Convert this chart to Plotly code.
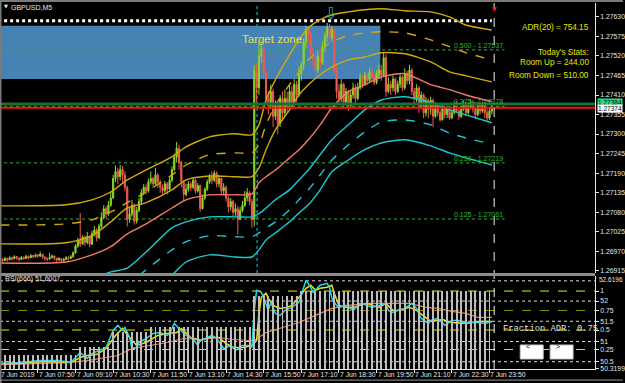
import pandas as pd
import plotly.graph_objects as go

# ---------------- data ----------------
BAR0 = pd.Timestamp("2019-06-07 06:30")   # first M5 bar on screen

closes = [
    1.26948, 1.26944, 1.26950, 1.26946, 1.26952, 1.26949, 1.26955, 1.26951, 1.26947, 1.26953,
    1.26950, 1.26956, 1.26952, 1.26958, 1.26955, 1.26960, 1.26957, 1.26962, 1.26954, 1.26950,
    1.26948, 1.26953, 1.26957, 1.26951, 1.26946, 1.26949, 1.26944, 1.26947, 1.26952, 1.26950, 1.26955,
    1.26966, 1.26985, 1.27002, 1.26990, 1.27010,
    1.26995, 1.27012, 1.26990, 1.27020, 1.27030, 1.27008,
    1.27040, 1.27065, 1.27090, 1.27075, 1.27100, 1.27120,
    1.27175, 1.27195, 1.27180, 1.27200, 1.27185,
    1.27150, 1.27060, 1.27075,
    1.27100, 1.27055, 1.27085, 1.27110,
    1.27135, 1.27150, 1.27140, 1.27165, 1.27175, 1.27160, 1.27185,
    1.27165, 1.27150, 1.27140, 1.27160, 1.27145, 1.27170,
    1.27200, 1.27235, 1.27260, 1.27220,
    1.27165, 1.27130, 1.27145,
    1.27160, 1.27150, 1.27170, 1.27140, 1.27155, 1.27090, 1.27120, 1.27145, 1.27165, 1.27180,
    1.27170, 1.27190, 1.27160, 1.27175, 1.27140, 1.27150, 1.27120,
    1.27095, 1.27110, 1.27080, 1.27090, 1.27060, 1.27085, 1.27100,
    1.27120, 1.27135, 1.27110, 1.27060,
    1.27480,
    1.27430, 1.27520, 1.27540,
    1.27470, 1.27400, 1.27380,
    1.27420, 1.27350, 1.27380, 1.27330, 1.27400, 1.27360,
    1.27400, 1.27380, 1.27420, 1.27390, 1.27440, 1.27410,
    1.27470, 1.27495,
    1.27560, 1.27595, 1.27580,
    1.27530, 1.27510,
    1.27480, 1.27520, 1.27500,
    1.27545, 1.27575,
    1.27600, 1.27570, 1.27595,
    1.27480, 1.27420,
    1.27400, 1.27440, 1.27390, 1.27420, 1.27380, 1.27410, 1.27430, 1.27400,
    1.27430, 1.27455, 1.27440, 1.27465, 1.27450, 1.27475, 1.27460, 1.27445, 1.27470, 1.27480, 1.27465,
    1.27515, 1.27420, 1.27440,
    1.27430, 1.27455, 1.27420, 1.27440, 1.27460, 1.27430, 1.27470, 1.27450,
    1.27480, 1.27420, 1.27400, 1.27430, 1.27380, 1.27410, 1.27360, 1.27395,
    1.27370, 1.27395, 1.27350, 1.27380, 1.27360, 1.27340, 1.27375, 1.27355,
    1.27370, 1.27345, 1.27360, 1.27380, 1.27365, 1.27350, 1.27370, 1.27385, 1.27360,
    1.27375, 1.27390, 1.27370, 1.27355, 1.27380, 1.27365, 1.27385, 1.27360, 1.27345, 1.27365, 1.27374,
]
highs = [
    1.26953, 1.26950, 1.26954, 1.26952, 1.26956, 1.26955, 1.26959, 1.26957, 1.26952, 1.26957,
    1.26955, 1.26960, 1.26958, 1.26962, 1.26960, 1.26964, 1.26963, 1.26969, 1.26962, 1.26956,
    1.26953, 1.26966, 1.26961, 1.26958, 1.26951, 1.26954, 1.26950, 1.26952, 1.26957, 1.26956, 1.26960,
    1.26970, 1.26990, 1.27008, 1.27078, 1.27015,
    1.27015, 1.27025, 1.27015, 1.27028, 1.27042, 1.27035,
    1.27048, 1.27080, 1.27100, 1.27098, 1.27112, 1.27138,
    1.27185, 1.27212, 1.27205, 1.27213, 1.27210,
    1.27195, 1.27155, 1.27095,
    1.27115, 1.27105, 1.27095, 1.27120,
    1.27145, 1.27160, 1.27158, 1.27175, 1.27195, 1.27180, 1.27205,
    1.27190, 1.27172, 1.27158, 1.27168, 1.27165, 1.27180,
    1.27210, 1.27245, 1.27278, 1.27270,
    1.27225, 1.27170, 1.27160,
    1.27168, 1.27165, 1.27178, 1.27175, 1.27162, 1.27158, 1.27130, 1.27150, 1.27172, 1.27188,
    1.27195, 1.27198, 1.27195, 1.27185, 1.27178, 1.27162, 1.27155,
    1.27125, 1.27120, 1.27115, 1.27105, 1.27098, 1.27095, 1.27112,
    1.27140, 1.27148, 1.27140, 1.27118,
    1.27495,
    1.27500, 1.27560, 1.27552,
    1.27545, 1.27480, 1.27420,
    1.27440, 1.27428, 1.27395, 1.27390, 1.27410, 1.27420,
    1.27425, 1.27420, 1.27440, 1.27435, 1.27455, 1.27450,
    1.27490, 1.27505,
    1.27570, 1.27605, 1.27600,
    1.27590, 1.27545,
    1.27530, 1.27535, 1.27540,
    1.27560, 1.27585,
    1.27613, 1.27610, 1.27605,
    1.27595, 1.27490,
    1.27440, 1.27455, 1.27445, 1.27430, 1.27425, 1.27420, 1.27445, 1.27440,
    1.27445, 1.27470, 1.27465, 1.27475, 1.27472, 1.27485, 1.27490, 1.27470, 1.27480, 1.27495, 1.27495,
    1.27530, 1.27525, 1.27460,
    1.27450, 1.27465, 1.27460, 1.27450, 1.27470, 1.27465, 1.27485, 1.27478,
    1.27495, 1.27485, 1.27430, 1.27440, 1.27435, 1.27420, 1.27415, 1.27405,
    1.27400, 1.27405, 1.27400, 1.27390, 1.27385, 1.27370, 1.27385, 1.27380,
    1.27380, 1.27375, 1.27370, 1.27390, 1.27392, 1.27370, 1.27380, 1.27395, 1.27390,
    1.27385, 1.27398, 1.27395, 1.27375, 1.27390, 1.27385, 1.27392, 1.27390, 1.27370, 1.27372, 1.27385,
]
lows = [
    1.26942, 1.26940, 1.26943, 1.26941, 1.26945, 1.26944, 1.26948, 1.26946, 1.26942, 1.26946,
    1.26946, 1.26949, 1.26947, 1.26951, 1.26950, 1.26953, 1.26951, 1.26954, 1.26949, 1.26944,
    1.26943, 1.26947, 1.26950, 1.26945, 1.26940, 1.26943, 1.26938, 1.26941, 1.26946, 1.26944, 1.26949,
    1.26952, 1.26963, 1.26980, 1.26982, 1.26988,
    1.26985, 1.26990, 1.26982, 1.26988, 1.27012, 1.26998,
    1.27005, 1.27035, 1.27060, 1.27062, 1.27070, 1.27095,
    1.27118, 1.27165, 1.27160, 1.27170, 1.27165,
    1.27140, 1.27040, 1.27050,
    1.27068, 1.27045, 1.27048, 1.27080,
    1.27100, 1.27128, 1.27130, 1.27135, 1.27158, 1.27148, 1.27155,
    1.27148, 1.27135, 1.27132, 1.27135, 1.27130, 1.27140,
    1.27165, 1.27195, 1.27220, 1.27200,
    1.27150, 1.27112, 1.27125,
    1.27138, 1.27140, 1.27145, 1.27132, 1.27135, 1.27082, 1.27088, 1.27115, 1.27140, 1.27160,
    1.27160, 1.27165, 1.27150, 1.27150, 1.27130, 1.27130, 1.27110,
    1.27080, 1.27085, 1.27068, 1.27070, 1.27017, 1.27058, 1.27080,
    1.27095, 1.27110, 1.27100, 1.27036,
    1.27040,
    1.27380, 1.27410, 1.27500,
    1.27455, 1.27385, 1.27355,
    1.27370, 1.27320, 1.27340, 1.27300, 1.27320, 1.27340,
    1.27350, 1.27360, 1.27370, 1.27375, 1.27385, 1.27390,
    1.27405, 1.27450,
    1.27480, 1.27540, 1.27555,
    1.27520, 1.27490,
    1.27462, 1.27470, 1.27480,
    1.27495, 1.27530,
    1.27560, 1.27555, 1.27560,
    1.27470, 1.27400,
    1.27380, 1.27390, 1.27370, 1.27380, 1.27365, 1.27372, 1.27400, 1.27385,
    1.27395, 1.27425, 1.27430, 1.27435, 1.27440, 1.27445, 1.27450, 1.27438, 1.27440, 1.27460, 1.27450,
    1.27460, 1.27405, 1.27415,
    1.27410, 1.27420, 1.27410, 1.27415, 1.27430, 1.27420, 1.27425, 1.27440,
    1.27440, 1.27410, 1.27380, 1.27390, 1.27360, 1.27370, 1.27345, 1.27350,
    1.27345, 1.27355, 1.27320, 1.27345, 1.27350, 1.27335, 1.27338, 1.27345,
    1.27345, 1.27340, 1.27342, 1.27355, 1.27360, 1.27340, 1.27345, 1.27365, 1.27350,
    1.27355, 1.27370, 1.27360, 1.27342, 1.27350, 1.27355, 1.27360, 1.27345, 1.27338, 1.27340, 1.27355,
]
first_open = 1.26950

# indicator bands, read at these bar indices
band_idx = [0, 28, 39, 47, 54, 62, 73, 79, 89, 100, 107, 110, 113, 117, 123, 127, 131, 136,
            141, 148, 155, 162, 172, 183, 191, 198, 209]
ma_mid = [1.26937, 1.26940, 1.26960, 1.26983, 1.27019, 1.27047, 1.27092, 1.27115, 1.27129, 1.27129,
          1.27132, 1.27163, 1.27180, 1.27199, 1.27233, 1.27256, 1.27284, 1.27326, 1.27374, 1.27419,
          1.27439, 1.27461, 1.27470, 1.27439, 1.27425, 1.27410, 1.27391]
gold_outer = [1.27098, 1.27101, 1.27115, 1.27137, 1.27171, 1.27199, 1.27236, 1.27264, 1.27292, 1.27301,
              1.27298, 1.27326, 1.27396, 1.27453, 1.27523, 1.27565, 1.27599, 1.27622, 1.27636, 1.27644,
              1.27650, 1.27653, 1.27647, 1.27644, 1.27630, 1.27607, 1.27593]
gold_mid = [1.27044, 1.27047, 1.27059, 1.27081, 1.27107, 1.27137, 1.27185, 1.27213, 1.27242, 1.27247,
            1.27247, 1.27270, 1.27326, 1.27382, 1.27439, 1.27475, 1.27509, 1.27537, 1.27560, 1.27577,
            1.27585, 1.27588, 1.27585, 1.27565, 1.27546, 1.27529, 1.27509]
gold_inner = [1.26991, 1.26994, 1.27014, 1.27053, 1.27092, 1.27107, 1.27143, 1.27171, 1.27182, 1.27180,
              1.27180, 1.27205, 1.27256, 1.27312, 1.27368, 1.27410, 1.27439, 1.27467, 1.27489, 1.27509,
              1.27517, 1.27529, 1.27526, 1.27503, 1.27475, 1.27464, 1.27447]
cyan_inner = [1.26884, 1.26887, 1.26895, 1.26912, 1.26923, 1.26968, 1.27036, 1.27053, 1.27067, 1.27067,
              1.27067, 1.27076, 1.27092, 1.27115, 1.27143, 1.27171, 1.27199, 1.27242, 1.27284, 1.27326,
              1.27368, 1.27396, 1.27405, 1.27388, 1.27368, 1.27354, 1.27332]
cyan_mid = [1.26833, 1.26836, 1.26845, 1.26856, 1.26876, 1.26918, 1.26974, 1.26997, 1.27014, 1.27011,
            1.27011, 1.27022, 1.27036, 1.27053, 1.27087, 1.27115, 1.27143, 1.27185, 1.27227, 1.27270,
            1.27306, 1.27334, 1.27340, 1.27326, 1.27303, 1.27289, 1.27272]
cyan_outer = [1.26777, 1.26780, 1.26788, 1.26805, 1.26833, 1.26862, 1.26904, 1.26940, 1.26960, 1.26954,
              1.26954, 1.26974, 1.27002, 1.27022, 1.27053, 1.27078, 1.27101, 1.27143, 1.27194, 1.27227,
              1.27256, 1.27275, 1.27284, 1.27267, 1.27247, 1.27233, 1.27213]

# RSI pane lines
rsi_fast_idx = [0, 8, 17, 25, 30, 34, 37, 39, 42, 45, 48, 50, 52, 53, 55, 56, 58, 59, 62, 65, 68, 71, 72,
                74, 76, 79, 82, 84, 85, 88, 90, 92, 95, 98, 100, 103, 106, 107, 108, 109, 111, 112, 114,
                115, 117, 119, 121, 124, 127, 130, 132, 133, 135, 136, 139, 140, 141, 143, 144, 147, 150,
                153, 156, 158, 161, 164, 165, 167, 169, 172, 175, 177, 179, 182, 183, 186, 188, 189, 192,
                195, 198, 200, 203, 206, 209]
rsi_fast = [50.454, 50.479, 50.529, 50.529, 50.479, 50.727, 50.578, 50.702, 50.777, 50.851,
            51.273, 51.397, 51.273, 51.347, 51.099, 50.826, 50.851, 50.975, 51.074, 51.199,
            51.223, 51.149, 51.199, 51.447, 51.323, 51.149, 51.074, 50.901, 51.025, 51.099,
            51.149, 51.074, 50.826, 50.901, 50.777, 50.901, 50.901, 50.851, 51.769, 52.266,
            52.216, 52.092, 51.769, 51.968, 51.695, 51.645, 51.769, 51.844, 51.968, 52.514,
            52.340, 52.216, 52.340, 52.390, 52.439, 52.340, 52.067, 51.893, 51.844, 51.893,
            51.769, 51.943, 51.893, 51.844, 51.893, 51.943, 51.769, 51.720, 51.769, 51.819,
            51.943, 51.819, 51.571, 51.447, 51.521, 51.571, 51.471, 51.397, 51.521, 51.521,
            51.447, 51.471, 51.471, 51.447, 51.496]
rsi_mid_idx = [0, 8, 18, 25, 30, 34, 37, 41, 45, 49, 52, 55, 58, 62, 67, 71, 75, 77, 81, 85, 89, 93, 96,
               99, 103, 107, 109, 110, 111, 113, 114, 116, 119, 122, 124, 127, 130, 132, 134, 136, 139,
               141, 142, 144, 147, 150, 153, 156, 158, 161, 164, 167, 169, 174, 177, 181, 183, 188, 192,
               198, 203, 209]
rsi_mid = [50.454, 50.454, 50.504, 50.479, 50.479, 50.603, 50.653, 50.677, 50.826, 51.149,
           51.323, 51.099, 50.901, 50.975, 51.149, 51.199, 51.223, 51.323, 51.099, 51.025,
           51.099, 51.099, 50.950, 50.851, 50.851, 50.901, 51.025, 51.695, 52.092, 52.191,
           52.067, 51.893, 51.819, 51.844, 51.893, 52.092, 52.315, 52.390, 52.266, 52.315,
           52.340, 52.390, 52.191, 51.893, 51.844, 51.844, 51.893, 51.943, 51.893, 51.844,
           51.943, 51.769, 51.769, 51.844, 51.769, 51.571, 51.496, 51.546, 51.471, 51.447,
           51.496, 51.496]
rsi_slow_idx = [0, 21, 28, 37, 42, 50, 56, 64, 71, 78, 85, 93, 99, 106, 108, 113, 120, 127, 134, 141,
                148, 156, 162, 174, 181, 186, 192, 198, 203, 209]
rsi_slow = [50.429, 50.454, 50.479, 50.529, 50.578, 50.653, 50.826, 50.901, 50.975, 51.074,
            51.050, 51.099, 51.050, 51.025, 51.025, 51.223, 51.347, 51.471, 51.645, 51.819,
            51.893, 51.943, 51.943, 51.943, 51.844, 51.819, 51.744, 51.695, 51.596, 51.596]

# fraction-of-ADR histogram, every second bar
frac_hist = [0.18] * 17 + [0.28] * 7 + [0.47] * 8 + [0.54] * 22 + [0.94] * 10 + [1.0] * 41

price_ticks = [1.27630, 1.27575, 1.27520, 1.27465, 1.27410, 1.27355, 1.27300,
               1.27245, 1.27190, 1.27135, 1.27080, 1.27025, 1.26970, 1.26915]
rsi_max_label = "52.6196"
rsi_ticks = [52.0, 51.5, 51.0, 50.5, 50.3199]
rsi_tick_text = ["52", "51.5", "51", "50.5", "50.3199"]
frac_ticks = [1.0, 0.75, 0.5, 0.25]
frac_tick_text = ["1", "0.75", "0.5", "0.25"]
rsi_levels = [52.5, 52.0, 51.5, 51.0, 50.5]

time_labels = ["7 Jun 2019", "7 Jun 07:50", "7 Jun 09:10", "7 Jun 10:30", "7 Jun 11:50",
               "7 Jun 13:10", "7 Jun 14:30", "7 Jun 15:50", "7 Jun 17:10", "7 Jun 18:30",
               "7 Jun 19:50", "7 Jun 21:10", "7 Jun 22:30", "7 Jun 23:50"]
time_label_at = ["2019-06-07 06:30", "2019-06-07 07:50", "2019-06-07 09:10", "2019-06-07 10:30",
                 "2019-06-07 11:50", "2019-06-07 13:10", "2019-06-07 14:30", "2019-06-07 15:50",
                 "2019-06-07 17:10", "2019-06-07 18:30", "2019-06-07 19:50", "2019-06-07 21:10",
                 "2019-06-07 22:30", "2019-06-07 23:50"]

fib_names = ["0.500", "0.375", "0.250", "0.125", "0.000"]
fib_prices = [1.27537, 1.27378, 1.27219, 1.27061, 1.26902]
adr_high_line = 1.27619
ask_price = 1.27385
bid_price = 1.27374
zone_top, zone_bottom = 1.27605, 1.27455
stats_lines = ["ADR(20) = 754.15", "Today's Stats:", "Room Up = 244.00", "Room Down = 510.00"]

# ---------------- figure ----------------
def bar_time(i):
    return BAR0 + pd.Timedelta(minutes=5 * i)

N = len(closes)
times = [bar_time(i) for i in range(N)]
opens = [first_open] + closes[:-1]
hi = [max(h, o, c) for h, o, c in zip(highs, opens, closes)]
lo = [min(l, o, c) for l, o, c in zip(lows, opens, closes)]

BULL = "#8CD626"
BEAR = "#EE5B52"
GOLD = "#D2A90A"
CYAN = "#1FC6CF"
SALMON = "#F77866"
WHITE = "#E6E6E6"
FONT = "Liberation Sans"

fig = go.Figure()

fig.add_trace(go.Candlestick(
    x=times, open=opens, high=hi, low=lo, close=closes,
    increasing=dict(line=dict(color=BULL, width=1), fillcolor=BULL),
    decreasing=dict(line=dict(color=BEAR, width=1), fillcolor=BEAR),
    whiskerwidth=0, hoverinfo="skip", xaxis="x", yaxis="y"))

bt = [bar_time(i) for i in band_idx]
for vals, col, dash in [(gold_outer, GOLD, "solid"), (gold_mid, GOLD, "dash"), (gold_inner, GOLD, "solid"),
                        (cyan_inner, CYAN, "solid"), (cyan_mid, CYAN, "dash"), (cyan_outer, CYAN, "solid"),
                        (ma_mid, SALMON, "solid")]:
    fig.add_trace(go.Scatter(x=bt, y=vals, mode="lines", xaxis="x", yaxis="y",
                             line=dict(color=col, width=1.4, dash=dash, shape="spline", smoothing=0.7),
                             hoverinfo="skip"))

# RSI pane
fig.add_trace(go.Bar(x=times[0::2], y=frac_hist, xaxis="x", yaxis="y3",
                     marker=dict(color="#BDBDBD", line=dict(width=0)), width=120000, hoverinfo="skip"))
fig.add_trace(go.Scatter(x=[bar_time(i) for i in rsi_slow_idx], y=rsi_slow, mode="lines", xaxis="x",
                         yaxis="y2", line=dict(color=SALMON, width=1.2), hoverinfo="skip"))
fig.add_trace(go.Scatter(x=[bar_time(i) for i in rsi_mid_idx], y=rsi_mid, mode="lines", xaxis="x",
                         yaxis="y2", line=dict(color="#F2E600", width=1.5), hoverinfo="skip"))
fig.add_trace(go.Scatter(x=[bar_time(i) for i in rsi_fast_idx], y=rsi_fast, mode="lines", xaxis="x",
                         yaxis="y2", line=dict(color="#22D8E6", width=1.5), hoverinfo="skip"))

X_LEFT = "2019-06-07 06:00"
FIB_END = "2019-06-08 00:22"
LINE_END = "2019-06-07 23:55"
DAY_END = "2019-06-08 00:00"

shapes = []
# target zone
shapes.append(dict(type="rect", xref="x", yref="y", x0=X_LEFT, x1="2019-06-07 19:58",
                   y0=zone_bottom, y1=zone_top, fillcolor="#4682B4", line=dict(width=0), layer="below"))
# ADR high dotted line
shapes.append(dict(type="line", xref="x", yref="y", x0=X_LEFT, x1=LINE_END, y0=adr_high_line,
                   y1=adr_high_line, line=dict(color="#FFFFFF", width=3, dash="dot"), layer="below"))
# fib levels
for p in fib_prices:
    shapes.append(dict(type="line", xref="x", yref="y", x0=X_LEFT, x1=FIB_END, y0=p, y1=p,
                       line=dict(color="#2DB82D", width=1, dash="dot"), layer="below"))
# news time vertical
shapes.append(dict(type="line", xref="x", yref="paper", x0="2019-06-07 15:36", x1="2019-06-07 15:36",
                   y0=0.2623, y1=1, line=dict(color="#10D0E0", width=1, dash="dot"), layer="below"))
# ask / bid
shapes.append(dict(type="line", xref="paper", yref="y", x0=0, x1=1, y0=ask_price, y1=ask_price,
                   line=dict(color="#17703A", width=3), layer="above"))
shapes.append(dict(type="line", xref="paper", yref="y", x0=0, x1=1, y0=bid_price, y1=bid_price,
                   line=dict(color="#FF1010", width=2), layer="above"))
# day end vertical
shapes.append(dict(type="line", xref="x", yref="paper", x0=DAY_END, x1=DAY_END, y0=0, y1=1,
                   line=dict(color="#F0F0F0", width=1, dash="dash"), layer="above"))
# RSI pane level lines
for v in rsi_levels:
    shapes.append(dict(type="line", xref="paper", yref="y2", x0=0, x1=1, y0=v, y1=v,
                       line=dict(color="#DADADA", width=1, dash="dot"), layer="below"))
for v in frac_ticks:
    col = "#8E8E00" if v == 0.75 else "#E8E800"
    shapes.append(dict(type="line", xref="paper", yref="y3", x0=0, x1=1, y0=v, y1=v,
                       line=dict(color=col, width=1, dash="dash"), layer="below"))
# pane separator and frame
shapes.append(dict(type="rect", xref="paper", yref="paper", x0=0, x1=1, y0=0.2541, y1=0.2623,
                   fillcolor="#8C8C8C", line=dict(width=0), layer="above"))
shapes.append(dict(type="rect", xref="paper", yref="paper", x0=0, x1=625 / 597, y0=1.0027, y1=1.0082,
                   fillcolor="#7A7A7A", line=dict(width=0), layer="above"))
shapes.append(dict(type="rect", xref="paper", yref="paper", x0=0, x1=0.0025, y0=-0.04, y1=1.005,
                   fillcolor="#7A7A7A", line=dict(width=0), layer="above"))
shapes.append(dict(type="line", xref="paper", yref="paper", x0=0, x1=625 / 597, y0=-0.0303, y1=-0.0303,
                   line=dict(color="#9A9A9A", width=1), layer="above"))
# buttons
for x0, x1 in [(522, 545), (552, 575)]:
    shapes.append(dict(type="rect", xref="paper", yref="paper", x0=x0 / 597, x1=x1 / 597,
                       y0=(369 - 359) / 366, y1=(369 - 345) / 366, fillcolor="#FFFFFF",
                       line=dict(color="#C8C8C8", width=1), layer="above"))

ann = []
ann.append(dict(x="2019-06-07 16:08", y=1.27568, xref="x", yref="y", text="Target zone", showarrow=False,
                font=dict(family=FONT, size=11.5, color="#E8E040")))
ann.append(dict(x="2019-06-07 18:13", y=1.27640, xref="x", yref="y", text="⇩", showarrow=False,
                font=dict(family="DejaVu Sans", size=16, color="#1FB8A8")))
ann.append(dict(x=DAY_END, y=0.999, xref="x", yref="paper", text="▼", showarrow=False,
                font=dict(family="DejaVu Sans", size=6, color="#FF2020")))
for name, p in zip(fib_names, fib_prices):
    ann.append(dict(x=FIB_END, y=p, xref="x", yref="y", text=f"{name} - {p:.5f}", showarrow=False,
                    xanchor="right", yanchor="bottom", yshift=-1,
                    font=dict(family=FONT, size=7, color="#2DB82D")))
stat_y = [28, 52, 63, 75]
for t, py in zip(stats_lines, stat_y):
    ann.append(dict(x=593 / 597, y=(369 - py) / 366, xref="paper", yref="paper", text=t, showarrow=False,
                    xanchor="right", yanchor="middle", font=dict(family=FONT, size=8.2, color="#E6E600")))
ann.append(dict(x=1.003, y=ask_price, xref="paper", yref="y", text="1.27384", showarrow=False,
                xanchor="left", yanchor="middle", yshift=1, bgcolor="#22E27A", borderpad=0,
                font=dict(family=FONT, size=6.5, color="#000000")))
ann.append(dict(x=1.003, y=bid_price, xref="paper", yref="y", text="1.27374", showarrow=False,
                xanchor="left", yanchor="middle", yshift=-1, bgcolor="#FFFFFF", borderpad=0,
                font=dict(family=FONT, size=6.5, color="#000000")))
ann.append(dict(x=1.003, y=(369 - 279.5) / 366, xref="paper", yref="paper", text=rsi_max_label,
                showarrow=False, xanchor="left", yanchor="middle",
                font=dict(family=FONT, size=6.5, color=WHITE)))
ann.append(dict(x=9.5 / 597, y=(369 - 7) / 366, xref="paper", yref="paper", text="GBPUSD,M5",
                showarrow=False, xanchor="left", yanchor="middle",
                font=dict(family=FONT, size=7, color=WHITE)))
ann.append(dict(x=2 / 597, y=(369 - 6) / 366, xref="paper", yref="paper", text="▼",
                showarrow=False, xanchor="left", yanchor="middle",
                font=dict(family="DejaVu Sans", size=5, color=WHITE)))
ann.append(dict(x=3 / 597, y=(369 - 279) / 366, xref="paper", yref="paper", text="RSI(666) 51.6007",
                showarrow=False, xanchor="left", yanchor="middle",
                font=dict(family=FONT, size=7, color=WHITE)))
ann.append(dict(x=503 / 597, y=(369 - 329) / 366, xref="paper", yref="paper", text="Fraction ADR: 0.75",
                showarrow=False, xanchor="left", yanchor="middle",
                font=dict(family="Liberation Mono", size=8.8, color="#E2E2E2")))
for t, cx in [("<", 533.5), (">", 563.5)]:
    ann.append(dict(x=cx / 597, y=(369 - 352) / 366, xref="paper", yref="paper", text=t,
                    showarrow=False, font=dict(family=FONT, size=7, color="#000000")))
for lab, t in zip(time_labels, time_label_at):
    ann.append(dict(x=t, y=-0.014, xref="x", yref="paper", text=lab, showarrow=False,
                    xanchor="left", yanchor="middle", xshift=-1,
                    font=dict(family=FONT, size=6.8, color=WHITE)))

axis_font = dict(family=FONT, size=6.8, color=WHITE)
fig.update_layout(
    width=625, height=383,
    margin=dict(l=0, r=28, t=3, b=14),
    paper_bgcolor="#000000", plot_bgcolor="#000000",
    showlegend=False, bargap=0,
    xaxis=dict(domain=[0, 1], anchor="y2", type="date",
               range=["2019-06-07 06:29:30", "2019-06-08 03:34:20"],
               rangeslider=dict(visible=False), showticklabels=False, ticks="outside",
               tickvals=time_label_at, ticklen=3, tickcolor=WHITE, showline=True, linecolor=WHITE,
               showgrid=False, zeroline=False, fixedrange=True),
    yaxis=dict(domain=[0.2623, 1], anchor="x", side="right", range=[1.26909, 1.27669],
               tickvals=price_ticks, ticktext=[f"{v:.5f}" for v in price_ticks], tickfont=axis_font,
               ticks="outside", ticklen=3, tickcolor=WHITE, showline=True, linecolor=WHITE,
               showgrid=False, zeroline=False, fixedrange=True),
    yaxis2=dict(domain=[0, 0.2541], anchor="x", side="right", range=[50.3199, 52.6196],
                tickvals=rsi_ticks, ticktext=rsi_tick_text, tickfont=axis_font,
                ticks="outside", ticklen=3, tickcolor=WHITE, showline=True, linecolor=WHITE,
                showgrid=False, zeroline=False, fixedrange=True),
    yaxis3=dict(overlaying="y2", anchor="x", side="right", range=[0, 1.193],
                tickvals=frac_ticks, ticktext=frac_tick_text, tickfont=axis_font,
                ticks="outside", ticklen=3, tickcolor=WHITE, showline=False,
                showgrid=False, zeroline=False, fixedrange=True),
    shapes=shapes, annotations=ann,
)

fig.write_html("out.html", config={"displayModeBar": False})
